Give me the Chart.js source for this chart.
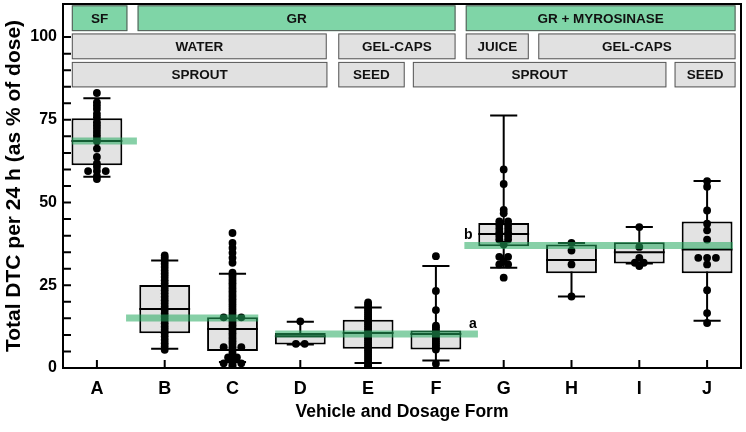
<!DOCTYPE html>
<html>
<head>
<meta charset="utf-8">
<script src="https://cdn.jsdelivr.net/npm/chart.js@4.4.1/dist/chart.umd.min.js"></script>
<style>
    html, body { margin: 0; padding: 0; background: #fff; }
    #wrap { width: 746px; height: 432px; }
</style>
</head>
<body>
<div id="wrap"><canvas id="dtc-chart"></canvas></div>
<script>
// groups on the x axis
const categories = ['A', 'B', 'C', 'D', 'E', 'F', 'G', 'H', 'I', 'J'];

// box plot statistics (% of dose)
const q1 = [61.3, 10.5, 5.1, 7.1, 5.8, 5.6, 36.8, 28.6, 31.6, 28.6];
const q3 = [75.5, 25.1, 15.3, 10.6, 14.6, 11.3, 43.8, 37.3, 38.0, 44.3];
const medians = [68.6, 17.8, 11.8, 9.6, 10.6, 10.3, 40.5, 32.6, 35.0, 35.8];
const whiskerLow = [57.8, 5.8, 1.8, 7.1, 1.5, 2.3, 30.3, 21.6, 31.6, 14.3];
const whiskerHigh = [81.5, 32.5, 28.5, 14.0, 18.3, 30.8, 76.3, 37.8, 42.6, 56.5];

// individual subjects
const pointsA = [83.1, 80.3, 79.3, 78.3, 76.8, 75.8, 74.3, 73.3, 72.3, 71.3, 70.3, 69.3, 68.5, 66.3, 63.8, 61.8, 60.8, 59.5, 59.5, 59.5, 58.0, 57.1];
const pointsB = [34.0, 33.3, 32.5, 31.5, 30.5, 29.5, 28.5, 27.5, 26.5, 25.5, 24.5, 23.5, 22.5, 21.5, 20.5, 19.5, 18.5, 17.5, 16.5, 15.5, 14.5, 13.5, 12.5, 11.5, 10.5, 9.5, 8.5, 7.5, 6.5, 5.5];
const pointsC = [40.8, 37.8, 36.3, 34.8, 33.3, 31.8, 28.8, 28.0, 27.2, 26.4, 25.6, 24.8, 24.0, 23.2, 22.4, 21.6, 20.8, 20.0, 19.2, 18.4, 17.6, 16.8, 16.0, 15.3, 15.3, 15.3, 14.5, 13.7, 12.9, 12.1, 11.3, 10.5, 9.7, 8.9, 8.1, 7.3, 6.3, 6.3, 6.3, 5.5, 4.7, 3.9, 3.2, 3.2, 2.4, 1.4, 1.4, 1.4, 0.8, 0.3];
const pointsD = [14.1, 7.3, 7.3];
const pointsE = [19.8, 19.2, 18.6, 18.0, 17.4, 16.8, 16.2, 15.6, 15.0, 14.4, 13.8, 13.2, 12.6, 12.0, 11.4, 10.8, 10.2, 9.6, 9.0, 8.4, 7.8, 7.2, 6.6, 6.0, 5.4, 4.8, 4.2, 3.6, 3.0, 2.4, 1.8, 1.2, 0.6, 0.3];
const pointsF = [33.8, 23.3, 17.5, 12.8, 12.3, 11.6, 11.0, 10.4, 9.8, 9.2, 8.6, 8.0, 7.4, 6.8, 6.2, 5.6, 1.3];
const pointsG = [60.0, 55.6, 47.8, 46.8, 44.3, 44.3, 43.2, 43.2, 42.1, 42.1, 41.0, 41.0, 39.9, 39.9, 38.8, 38.8, 37.3, 33.6, 33.6, 32.3, 31.3, 31.3, 27.3];
const pointsH = [37.8, 35.5, 31.3, 21.6];
const pointsI = [42.6, 36.6, 33.3, 31.8, 31.8, 30.8];
const pointsJ = [56.5, 54.8, 47.6, 43.6, 41.6, 38.8, 33.3, 33.3, 33.3, 31.3, 23.5, 16.6, 13.6];
const groupPoints = [pointsA, pointsB, pointsC, pointsD, pointsE, pointsF, pointsG, pointsH, pointsI, pointsJ];

// group means (green bars), spanning groups on the x axis
const meanValues = [68.6, 15.1, 10.3, 37.0];
const meanFrom = [-0.37, 0.43, 2.63, 5.42];
const meanTo = [0.59, 2.38, 5.62, 9.38];
const meanLetters = ['', '', 'a', 'b'];

// header bands
const headerTop = ['SF', 'GR', 'GR + MYROSINASE'];
const headerMid = ['WATER', 'GEL-CAPS', 'JUICE', 'GEL-CAPS'];
const headerLow = ['SPROUT', 'SEED', 'SPROUT', 'SEED'];

// layout of the header bands (x in group units, y in axis units)
const headerLayout = [
    {texts: headerTop, fill: '#7fd5a7', y: [101.8, 109.6], spans: [[-0.37, 0.45], [0.6, 5.29], [5.44, 9.42]]},
    {texts: headerMid, fill: '#e1e1e1', y: [93.3, 101.1], spans: [[-0.37, 3.39], [3.56, 5.29], [5.44, 6.37], [6.51, 9.42]]},
    {texts: headerLow, fill: '#e1e1e1', y: [84.8, 92.5], spans: [[-0.37, 3.4], [3.56, 4.54], [4.66, 8.4], [8.52, 9.42]]}
];

const FONT = "'Liberation Sans', Arial, sans-serif";

// spread equal values sideways so they do not hide each other
function scatterData() {
    const out = [];
    groupPoints.forEach((vals, i) => {
        const counts = {};
        vals.forEach(v => counts[v] = (counts[v] || 0) + 1);
        const seen = {};
        vals.forEach(v => {
            const n = counts[v];
            const k = seen[v] = (seen[v] === undefined ? 0 : seen[v] + 1);
            out.push({x: i + (k - (n - 1) / 2) * 0.13, y: v});
        });
    });
    return out;
}

const meanDatasets = meanValues.map((m, i) => ({
    type: 'line',
    data: [{x: meanFrom[i], y: m}, {x: meanTo[i], y: m}],
    borderColor: 'rgba(36, 170, 95, 0.55)',
    borderWidth: 7,
    borderCapStyle: 'butt',
    pointRadius: 0,
    order: 0
}));

const boxExtras = {
    id: 'boxExtras',
    beforeDatasetsDraw(chart) {
        const {ctx, scales: {x, y}} = chart;
        ctx.save();
        headerLayout.forEach(row => {
            const top = y.getPixelForValue(row.y[1]);
            const bot = y.getPixelForValue(row.y[0]);
            row.spans.forEach((s, j) => {
                const l = x.getPixelForValue(s[0]);
                const r = x.getPixelForValue(s[1]);
                ctx.fillStyle = row.fill;
                ctx.fillRect(l, top, r - l, bot - top);
                ctx.strokeStyle = '#555';
                ctx.lineWidth = 1;
                ctx.strokeRect(l + 0.5, top + 0.5, r - l - 1, bot - top - 1);
                ctx.fillStyle = '#111';
                ctx.font = 'bold 13.5px ' + FONT;
                ctx.textAlign = 'center';
                ctx.textBaseline = 'middle';
                ctx.fillText(row.texts[j], (l + r) / 2, (top + bot) / 2 + 1);
            });
        });
        ctx.restore();
    },
    beforeDatasetDraw(chart, args) {
        if (args.meta.type !== 'bar') return;
        const {ctx, scales: {x, y}} = chart;
        ctx.save();
        ctx.strokeStyle = '#000';
        ctx.lineWidth = 2;
        categories.forEach((c, i) => {
            const cx = x.getPixelForValue(i);
            const hw = x.getPixelForValue(i + 0.2) - cx;
            const yl = y.getPixelForValue(whiskerLow[i]);
            const yh = y.getPixelForValue(whiskerHigh[i]);
            ctx.beginPath();
            ctx.moveTo(cx, yl); ctx.lineTo(cx, yh);
            ctx.moveTo(cx - hw, yl); ctx.lineTo(cx + hw, yl);
            ctx.moveTo(cx - hw, yh); ctx.lineTo(cx + hw, yh);
            ctx.stroke();
        });
        ctx.restore();
    },
    afterDatasetDraw(chart, args) {
        if (args.meta.type !== 'bar') return;
        const {ctx, scales: {x, y}} = chart;
        ctx.save();
        ctx.strokeStyle = '#000';
        ctx.lineWidth = 2;
        args.meta.data.forEach((bar, i) => {
            const ym = y.getPixelForValue(medians[i]);
            ctx.beginPath();
            ctx.moveTo(bar.x - bar.width / 2, ym);
            ctx.lineTo(bar.x + bar.width / 2, ym);
            ctx.stroke();
        });
        ctx.restore();
    },
    afterDatasetsDraw(chart) {
        const {ctx, chartArea: a, scales: {x, y}} = chart;
        ctx.save();
        ctx.strokeStyle = '#000';
        ctx.lineWidth = 2;
        ctx.beginPath();
        for (let v = 0; v <= 100; v += 5) {
            const py = y.getPixelForValue(v);
            ctx.moveTo(a.left, py); ctx.lineTo(a.left + 8, py);
        }
        categories.forEach((c, i) => {
            const px = x.getPixelForValue(i);
            ctx.moveTo(px, a.bottom); ctx.lineTo(px, a.bottom - 8);
        });
        ctx.stroke();
        ctx.strokeRect(a.left, a.top, a.right - a.left, a.bottom - a.top);
        // letters next to the mean bars
        ctx.fillStyle = '#000';
        ctx.font = 'bold 14px ' + FONT;
        ctx.textAlign = 'center';
        ctx.textBaseline = 'middle';
        meanLetters.forEach((t, i) => {
            if (!t) return;
            const atEnd = t === 'a';
            const px = x.getPixelForValue(atEnd ? meanTo[i] : meanFrom[i]) + (atEnd ? -5 : 4);
            ctx.fillText(t, px, y.getPixelForValue(meanValues[i]) - 10);
        });
        ctx.restore();
    }
};

const dtcChart = new Chart(document.getElementById('dtc-chart'), {
    type: 'bar',
    data: {
        datasets: [
            ...meanDatasets,
            {
                type: 'scatter',
                data: scatterData(),
                backgroundColor: '#000',
                borderColor: '#000',
                borderWidth: 0,
                pointRadius: 3.9,
                order: 1
            },
            {
                type: 'bar',
                data: categories.map((c, i) => ({x: i, y: [q1[i], q3[i]]})),
                backgroundColor: '#e3e3e3',
                borderColor: '#000',
                borderWidth: 2,
                borderSkipped: false,
                barPercentage: 0.75,
                categoryPercentage: 1,
                order: 2
            }
        ]
    },
    options: {
        animation: false,
        responsive: true,
        maintainAspectRatio: false,
        layout: {padding: {top: 1, right: 5, left: 0, bottom: 0}},
        plugins: {
            legend: {display: false},
            tooltip: {enabled: false}
        },
        scales: {
            x: {
                type: 'linear',
                min: -0.5,
                max: 9.5,
                offset: false,
                grid: {display: false, drawTicks: false},
                border: {display: false},
                afterBuildTicks: s => { s.ticks = categories.map((c, i) => ({value: i})); },
                afterFit: s => { s.height = 64; s.paddingLeft = 0; s.paddingRight = 0; },
                ticks: {
                    autoSkip: false,
                    padding: 10,
                    color: '#000',
                    font: {family: FONT, size: 18, weight: 'bold'},
                    callback: v => categories[v]
                },
                title: {
                    display: true,
                    text: 'Vehicle and Dosage Form',
                    color: '#000',
                    padding: {top: 0, bottom: 9},
                    font: {family: FONT, size: 17.5, weight: 'bold'}
                }
            },
            y: {
                min: 0,
                max: 110,
                grid: {display: false, drawTicks: false},
                border: {display: false},
                afterFit: s => { s.width = 63; s.paddingTop = 0; s.paddingBottom = 0; },
                ticks: {
                    stepSize: 5,
                    autoSkip: false,
                    padding: 6,
                    color: '#000',
                    font: {family: FONT, size: 16, weight: 'bold'},
                    callback: v => (v % 25 === 0 && v <= 100) ? v : ''
                },
                title: {
                    display: true,
                    text: 'Total DTC per 24 h (as % of dose)',
                    color: '#000',
                    padding: {top: 2, bottom: 0},
                    font: {family: FONT, size: 21, weight: 'bold'}
                }
            }
        }
    },
    plugins: [boxExtras]
});
</script>
</body>
</html>
